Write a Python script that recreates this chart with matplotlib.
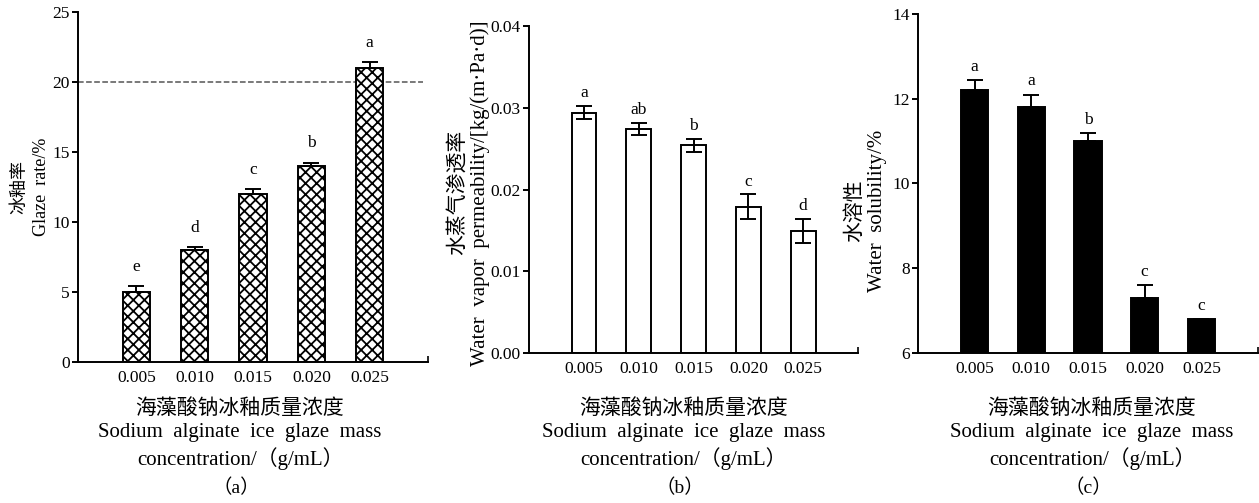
import matplotlib
matplotlib.use("Agg")
import matplotlib.pyplot as plt

plt.rcParams['font.family'] = ['Liberation Serif', 'Noto Sans CJK SC']
plt.rcParams['hatch.linewidth'] = 1.3
plt.rcParams['axes.unicode_minus'] = False

conc = ['0.005', '0.010', '0.015', '0.020', '0.025']

# (a) glaze rate
glaze = [5.0, 8.0, 12.0, 14.0, 21.0]
glaze_err = [0.4, 0.2, 0.35, 0.25, 0.45]
glaze_sig = ['e', 'd', 'c', 'b', 'a']

# (b) water vapor permeability
wvp = [0.0294, 0.0274, 0.0254, 0.0179, 0.0149]
wvp_err = [0.0008, 0.0007, 0.0008, 0.0015, 0.0015]
wvp_sig = ['a', 'ab', 'b', 'c', 'd']

# (c) water solubility
sol = [12.2, 11.8, 11.0, 7.3, 6.8]
sol_err = [0.25, 0.3, 0.2, 0.3, 0.0]
sol_sig = ['a', 'a', 'b', 'c', 'c']

xlab = '海藻酸钠冰釉质量浓度\nSodium  alginate  ice  glaze  mass\nconcentration/（g/mL）'

fig = plt.figure(figsize=(12.59, 5.03), dpi=100)
ax1 = fig.add_axes([0.062, 0.2803, 0.278, 0.6958])
ax2 = fig.add_axes([0.4202, 0.2982, 0.2613, 0.6501])
ax3 = fig.add_axes([0.7291, 0.2982, 0.2701, 0.674])

x = list(range(5))


def style(ax, ylim, yticks, yfmt):
    ax.set_xlim(-1, 5)
    ax.set_ylim(*ylim)
    for s in ['top', 'right']:
        ax.spines[s].set_visible(False)
    for s in ['left', 'bottom']:
        ax.spines[s].set_linewidth(1.4)
    ax.set_xticks(x + [5])
    ax.set_xticklabels(conc + [''], fontsize=12.5)
    ax.tick_params(axis='x', direction='in', length=4, width=1.2, pad=6)
    ax.set_yticks(yticks)
    ax.set_yticklabels([yfmt.format(v) for v in yticks], fontsize=12.5)
    ax.tick_params(axis='y', direction='out', length=4, width=1.4, pad=2)


# panel a
ax1.bar(x, glaze, width=0.47, color='white', edgecolor='black', linewidth=1.4,
        hatch='xxx', zorder=2)
ax1.errorbar(x, glaze, yerr=[[0] * 5, glaze_err], fmt='none', ecolor='black',
             elinewidth=1.4, capsize=5.5, capthick=1.4, zorder=3)
ax1.axhline(20, xmin=0, xmax=0.985, ls='--', color='#555555', lw=1.1, zorder=1)
for xi, v, e, s in zip(x, glaze, glaze_err, glaze_sig):
    ax1.text(xi, v + e + 0.8, s, ha='center', va='bottom', fontsize=12.5)
style(ax1, (0, 25), [0, 5, 10, 15, 20, 25], '{:g}')
ax1.set_ylabel('冰釉率\nGlaze  rate/%', fontsize=13, linespacing=1.4)
ax1.yaxis.set_label_coords(-0.08, 0.5)

# panel b
ax2.bar(x, wvp, width=0.45, color='white', edgecolor='black', linewidth=1.4, zorder=2)
ax2.errorbar(x, wvp, yerr=wvp_err, fmt='none', ecolor='black',
             elinewidth=1.4, capsize=5.5, capthick=1.4, zorder=3)
for xi, v, e, s in zip(x, wvp, wvp_err, wvp_sig):
    ax2.text(xi, v + e + 0.0006, s, ha='center', va='bottom', fontsize=12.5)
style(ax2, (0, 0.04), [0.0, 0.01, 0.02, 0.03, 0.04], '{:.2f}')
ax2.set_ylabel('水蒸气渗透率\nWater  vapor  permeability/[kg/(m·Pa·d)]',
               fontsize=15, linespacing=1.15)
ax2.yaxis.set_label_coords(-0.118, 0.49)

# panel c
ax3.bar(x, sol, width=0.48, color='black', edgecolor='black', linewidth=1.4, zorder=2)
ax3.errorbar(x, sol, yerr=[[0] * 5, sol_err], fmt='none', ecolor='black',
             elinewidth=1.4, capsize=5.5, capthick=1.4, zorder=3)
for xi, v, e, s in zip(x, sol, sol_err, sol_sig):
    ax3.text(xi, v + e + 0.12, s, ha='center', va='bottom', fontsize=12.5)
style(ax3, (6, 14), [6, 8, 10, 12, 14], '{:g}')
ax3.set_ylabel('水溶性\nWater  solubility/%', fontsize=15, linespacing=1.2)
ax3.yaxis.set_label_coords(-0.09, 0.42)

# x labels and panel captions
for cx, tag in [(240, '（a）'), (684, '（b）'), (1092, '（c）')]:
    fig.text(cx / 1259, 1 - 399 / 503, xlab, ha='center', va='top',
             fontsize=15, linespacing=1.3)
    fig.text((cx - 4) / 1259, 1 - 488 / 503, tag, ha='center', va='center',
             fontsize=14)

fig.savefig('out.png', dpi=100)
